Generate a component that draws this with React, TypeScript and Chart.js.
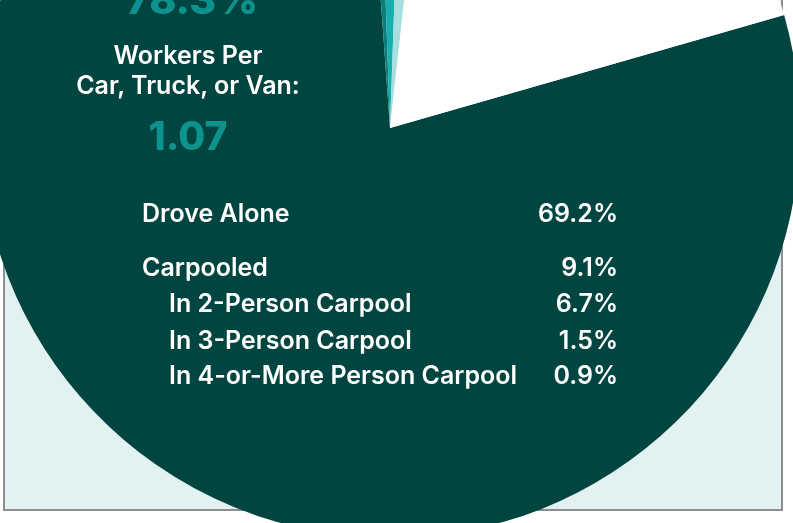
import React, { useEffect, useRef } from "react";
import { Chart, registerables } from "chart.js";

Chart.register(...registerables);

// ---- data ----
const sliceLabels = ["Car, Truck, or Van", "Public Transit", "Walked", "Other", "Worked From Home"];
const sliceValues = [78.3, 0.6, 1.1, 1.2, 18.8];
const sliceColors = ["#014541", "#0b7d7b", "#19aeae", "#a8dfde", "#ffffff"];

const headlineValue = "78.3%";
const subtitleLines = ["Workers Per", "Car, Truck, or Van:"];
const workersPerVehicle = "1.07";

const rowLabels = ["Drove Alone", "Carpooled", "In 2-Person Carpool", "In 3-Person Carpool", "In 4-or-More Person Carpool"];
const rowValues = ["69.2%", "9.1%", "6.7%", "1.5%", "0.9%"];
const rowIndented = [false, false, true, true, true];
const rowBaselines = [223, 277, 313, 350, 385];

const FONT = "Inter, 'Noto Sans', sans-serif";
const TEAL = "#0e928e";
const TS = 25;
const TW = 600;

function Txt(props: { x: number; baseline: number; size: number; weight: number; color: string; align: "left" | "right" | "center"; children: React.ReactNode; ls?: number }) {
  const { x, baseline, size, weight, color, align, children, ls } = props;
  const top = baseline - 0.863 * size;
  const style: React.CSSProperties = {
    position: "absolute",
    top,
    fontFamily: FONT,
    fontSize: size,
    fontWeight: weight,
    lineHeight: `${size}px`,
    color,
    whiteSpace: "nowrap",
    letterSpacing: ls ?? 0,
  };
  if (align === "left") style.left = x;
  else if (align === "right") style.right = 793 - x;
  else {
    style.left = x - 300;
    style.width = 600;
    style.textAlign = "center";
  }
  return <div style={style}>{children}</div>;
}

export default function App() {
  const ref = useRef<HTMLCanvasElement | null>(null);

  useEffect(() => {
    if (!ref.current) return;
    const chart = new Chart(ref.current, {
      type: "pie",
      data: {
        labels: sliceLabels,
        datasets: [
          {
            data: sliceValues,
            backgroundColor: sliceColors,
            borderWidth: 0,
          },
        ],
      },
      options: {
        responsive: false,
        animation: false,
        rotation: 74,
        layout: { padding: 0 },
        plugins: { legend: { display: false }, tooltip: { enabled: false }, title: { display: false } },
      },
    });
    return () => chart.destroy();
  }, []);

  return (
    <div style={{ position: "fixed", left: 0, top: 0, width: 793, height: 523, overflow: "hidden", background: "#ffffff" }}>
      <div
        style={{
          position: "absolute",
          left: 3,
          top: -20,
          width: 776,
          height: 527,
          background: "#e2f1f1",
          border: "2px solid #8e8e8e",
        }}
      />
      <canvas
        ref={ref}
        width={820}
        height={820}
        style={{ position: "absolute", left: -20, top: -282, width: 820, height: 820, display: "block" }}
      />
      <Txt x={192} baseline={14} size={41} weight={800} color={TEAL} align="center">{headlineValue}</Txt>
      <Txt x={188} baseline={65} size={TS} weight={TW} color="#ffffff" align="center">{subtitleLines[0]}</Txt>
      <Txt x={188} baseline={95} size={TS} weight={TW} color="#ffffff" align="center">{subtitleLines[1]}</Txt>
      <Txt x={188} baseline={150} size={39} weight={800} color={TEAL} align="center">{workersPerVehicle}</Txt>
      {rowLabels.map((l, i) => (
        <Txt key={"l" + i} x={rowIndented[i] ? 169 : 142} baseline={rowBaselines[i]} size={TS} weight={TW} color="#ffffff" align="left">{l}</Txt>
      ))}
      {rowValues.map((v, i) => (
        <Txt key={"v" + i} x={618} baseline={rowBaselines[i]} size={TS} weight={TW} color="#ffffff" align="right">{v}</Txt>
      ))}
    </div>
  );
}
